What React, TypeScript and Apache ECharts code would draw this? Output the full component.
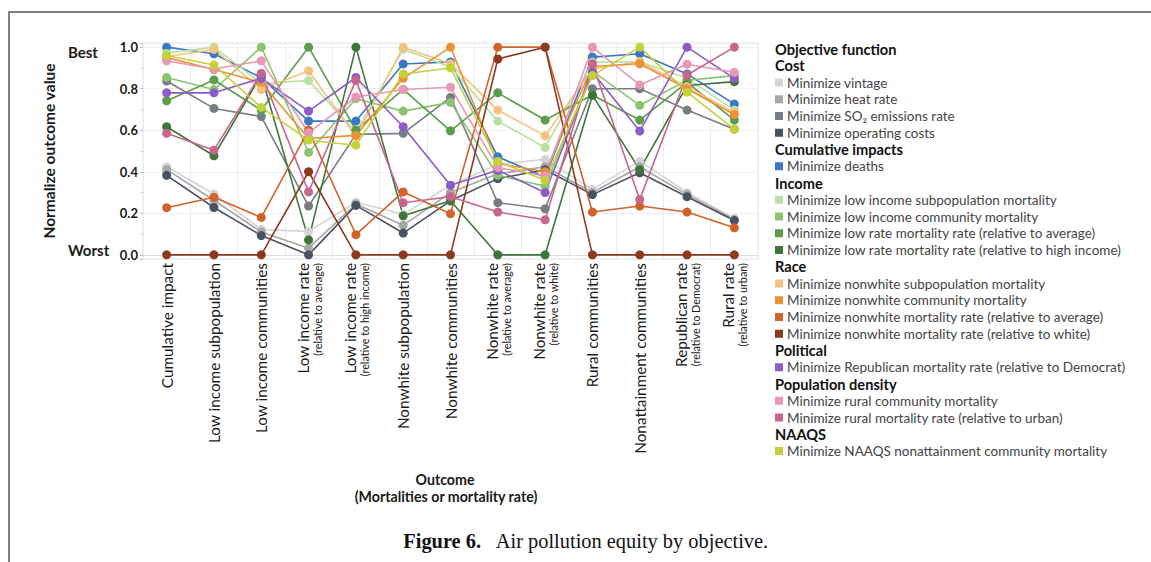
import React, { useEffect, useRef } from 'react';
import * as echarts from 'echarts';

const categoryNames = [
  'Cumulative impact',
  'Low income subpopulation',
  'Low income communities',
  'Low income rate',
  'Low income rate',
  'Nonwhite subpopulation',
  'Nonwhite communities',
  'Nonwhite rate',
  'Nonwhite rate',
  'Rural communities',
  'Nonattainment communities',
  'Republican rate',
  'Rural rate',
];
const categorySubs = [
  '', '', '', '(relative to average)', '(relative to high income)', '', '',
  '(relative to average)', '(relative to white)', '', '', '(relative to Democrat)', '(relative to urban)',
];
const yTicks = [0, 0.2, 0.4, 0.6, 0.8, 1.0];

const vintage = [0.424, 0.293, 0.122, 0.113, 0.253, 0.195, 0.335, 0.435, 0.46, 0.315, 0.451, 0.3, 0.175];
const heatRate = [0.41, 0.263, 0.11, 0.032, 0.245, 0.142, 0.3, 0.39, 0.424, 0.3, 0.424, 0.29, 0.17];
const so2Rate = [0.837, 0.705, 0.666, 0.235, 0.58, 0.585, 0.758, 0.251, 0.222, 0.8, 0.8, 0.697, 0.605];
const operatingCosts = [0.383, 0.228, 0.093, 0.0, 0.238, 0.105, 0.26, 0.367, 0.41, 0.29, 0.395, 0.28, 0.165];
const deaths = [1.0, 0.968, 0.853, 0.644, 0.644, 0.919, 0.929, 0.472, 0.375, 0.952, 0.968, 0.871, 0.726];
const lowIncomeSub = [0.97, 1.0, 0.826, 0.839, 0.59, 0.99, 0.905, 0.644, 0.517, 0.928, 0.93, 0.85, 0.697];
const lowIncomeComm = [0.854, 0.796, 1.0, 0.493, 0.752, 0.692, 0.734, 0.383, 0.33, 0.885, 0.72, 0.84, 0.863];
const lowRateAvg = [0.742, 0.842, 0.697, 1.0, 0.6, 0.797, 0.597, 0.78, 0.649, 0.77, 0.649, 0.83, 0.649];
const lowRateHigh = [0.617, 0.477, 0.866, 0.072, 1.0, 0.188, 0.26, 0.0, 0.0, 0.768, 0.41, 0.815, 0.834];
const nonwhiteSub = [0.955, 0.989, 0.796, 0.886, 0.57, 1.0, 0.92, 0.697, 0.573, 0.895, 0.93, 0.81, 0.685];
const nonwhiteComm = [0.95, 0.892, 0.83, 0.56, 0.575, 0.85, 1.0, 0.44, 0.4, 0.907, 0.92, 0.8, 0.676];
const nonwhiteAvg = [0.227, 0.277, 0.18, 0.6, 0.097, 0.303, 0.198, 1.0, 1.0, 0.206, 0.235, 0.206, 0.13];
const nonwhiteWhite = [0, 0, 0, 0.4, 0, 0, 0, 0.943, 1.0, 0, 0, 0, 0];
const republican = [0.78, 0.78, 0.85, 0.692, 0.854, 0.617, 0.335, 0.407, 0.3, 0.88, 0.596, 1.0, 0.85];
const ruralComm = [0.934, 0.895, 0.934, 0.588, 0.76, 0.796, 0.807, 0.42, 0.38, 1.0, 0.818, 0.918, 0.879];
const ruralRate = [0.585, 0.504, 0.874, 0.303, 0.84, 0.251, 0.28, 0.206, 0.169, 0.92, 0.266, 0.866, 1.0];
const naaqs = [0.96, 0.914, 0.71, 0.552, 0.528, 0.871, 0.9, 0.45, 0.359, 0.863, 1.0, 0.783, 0.605];

const seriesList = [
  { name: 'Minimize vintage', data: vintage, color: '#d4d4d4' },
  { name: 'Minimize heat rate', data: heatRate, color: '#a7a7a7' },
  { name: 'Minimize SO₂ emissions rate', data: so2Rate, color: '#787d84' },
  { name: 'Minimize operating costs', data: operatingCosts, color: '#485261' },
  { name: 'Minimize deaths', data: deaths, color: '#3b78c3' },
  { name: 'Minimize low income subpopulation mortality', data: lowIncomeSub, color: '#b9e0a6' },
  { name: 'Minimize low income community mortality', data: lowIncomeComm, color: '#8bc470' },
  { name: 'Minimize low rate mortality rate (relative to average)', data: lowRateAvg, color: '#5c9d4b' },
  { name: 'Minimize low rate mortality rate (relative to high income)', data: lowRateHigh, color: '#3d7639' },
  { name: 'Minimize nonwhite subpopulation mortality', data: nonwhiteSub, color: '#f5c27f' },
  { name: 'Minimize nonwhite community mortality', data: nonwhiteComm, color: '#ec9034' },
  { name: 'Minimize nonwhite mortality rate (relative to average)', data: nonwhiteAvg, color: '#d0622b' },
  { name: 'Minimize nonwhite mortality rate (relative to white)', data: nonwhiteWhite, color: '#8b3a1f' },
  { name: 'Minimize Republican mortality rate (relative to Democrat)', data: republican, color: '#8b5cc8' },
  { name: 'Minimize rural community mortality', data: ruralComm, color: '#e897b7' },
  { name: 'Minimize rural mortality rate (relative to urban)', data: ruralRate, color: '#c7658f' },
  { name: 'Minimize NAAQS nonattainment community mortality', data: naaqs, color: '#c5d13a' },
];

const legendGroups = [
  { title: 'Cost', items: [0, 1, 2, 3] },
  { title: 'Cumulative impacts', items: [4] },
  { title: 'Income', items: [5, 6, 7, 8] },
  { title: 'Race', items: [9, 10, 11, 12] },
  { title: 'Political', items: [13] },
  { title: 'Population density', items: [14, 15] },
  { title: 'NAAQS', items: [16] },
];

const FONT = 'Lato, "Noto Sans", sans-serif';

function buildLegend() {
  const els: any[] = [];
  const x0 = 775;
  const y0 = 49;
  const rowH = 16.75;
  let row = 0;
  const header = (t: string) => {
    els.push({
      type: 'text', x: x0, y: y0 + row * rowH,
      style: { text: t, fontFamily: FONT, fontWeight: 'bold', fontSize: 14.6, fill: '#111', align: 'left', verticalAlign: 'middle' },
    });
    row++;
  };
  header('Objective function');
  legendGroups.forEach((g) => {
    header(g.title);
    g.items.forEach((i) => {
      const y = y0 + row * rowH;
      els.push({ type: 'rect', shape: { x: x0, y: y - 4, width: 8, height: 8 }, style: { fill: seriesList[i].color } });
      els.push({
        type: 'text', x: x0 + 12, y,
        style: { text: seriesList[i].name, fontFamily: FONT, fontSize: 13.5, fill: '#444', align: 'left', verticalAlign: 'middle' },
      });
      row++;
    });
  });
  return els;
}

export default function App() {
  const ref = useRef<HTMLDivElement>(null);
  useEffect(() => {
    if (!ref.current) return;
    const chart = echarts.init(ref.current, undefined, { renderer: 'svg' });
    const option: any = {
      animation: false,
      backgroundColor: '#ffffff',
      grid: { left: 143, right: 393, top: 43, bottom: 303, show: true, borderColor: '#e2e2e2', borderWidth: 1 },
      xAxis: {
        type: 'category',
        data: categoryNames.map((n, i) => n + (categorySubs[i] ? ' ' + categorySubs[i] : '')),
        boundaryGap: true,
        axisLine: { show: true, lineStyle: { color: '#dddddd' } },
        axisTick: { show: false },
        splitLine: { show: true, lineStyle: { color: '#ececec' } },
        axisLabel: {
          interval: 0,
          rotate: 90,
          margin: 4,
          color: '#1a1a1a',
          formatter: (_v: string, i: number) =>
            categorySubs[i] ? `{a|${categoryNames[i]}}\n{b|${categorySubs[i]}}` : `{a|${categoryNames[i]}}`,
          rich: {
            a: { fontFamily: FONT, fontSize: 15.3, color: '#1a1a1a', lineHeight: 17 },
            b: { fontFamily: FONT, fontSize: 10.8, color: '#1a1a1a', lineHeight: 12 },
          },
        },
      },
      yAxis: {
        type: 'value',
        min: -0.02,
        max: 1.02,
        splitNumber: 5,
        name: 'Normalize outcome value',
        nameLocation: 'middle',
        nameGap: 86,
        nameTextStyle: { fontFamily: FONT, fontWeight: 'bold', fontSize: 15.5, color: '#1a1a1a' },
        axisLine: { show: false },
        axisTick: { show: true, length: 3, lineStyle: { color: '#bbbbbb' } },
        minorTick: { show: true, splitNumber: 2, length: 2, lineStyle: { color: '#cccccc' } },
        splitLine: { show: true, lineStyle: { color: '#efefef' } },
        axisLabel: {
          margin: 5,
          fontFamily: FONT,
          fontWeight: 'bold',
          fontSize: 13,
          color: '#1a1a1a',
          formatter: (v: number) => (yTicks.some((t) => Math.abs(t - v) < 1e-6) ? v.toFixed(1) : ''),
        },
      },
      series: seriesList.map((s) => ({
        name: s.name,
        type: 'line',
        data: s.data,
        symbol: 'circle',
        symbolSize: 9,
        lineStyle: { width: 1.6, color: s.color },
        itemStyle: { color: s.color },
      })),
      graphic: [
        { type: 'polyline', shape: { points: [[9, 562], [9, 12], [1151, 12]] }, style: { stroke: '#808080', lineWidth: 2, fill: 'none' } },
        { type: 'text', x: 68, y: 52, style: { text: 'Best', fontFamily: FONT, fontWeight: 'bold', fontSize: 15, fill: '#1a1a1a', align: 'left', verticalAlign: 'middle' } },
        { type: 'text', x: 68, y: 250, style: { text: 'Worst', fontFamily: FONT, fontWeight: 'bold', fontSize: 15, fill: '#1a1a1a', align: 'left', verticalAlign: 'middle' } },
        { type: 'text', x: 445, y: 479, style: { text: 'Outcome', fontFamily: FONT, fontWeight: 'bold', fontSize: 14.2, fill: '#1a1a1a', align: 'center', verticalAlign: 'middle' } },
        { type: 'text', x: 446, y: 496, style: { text: '(Mortalities or mortality rate)', fontFamily: FONT, fontWeight: 'bold', fontSize: 14.2, fill: '#1a1a1a', align: 'center', verticalAlign: 'middle' } },
        {
          type: 'text', x: 586, y: 541,
          style: {
            text: '{b|Figure 6.}{n|   Air pollution equity by objective.}',
            align: 'center', verticalAlign: 'middle',
            rich: {
              b: { fontFamily: '"Liberation Serif", serif', fontWeight: 'bold', fontSize: 20.4, fill: '#111' },
              n: { fontFamily: '"Liberation Serif", serif', fontSize: 20.4, fill: '#111' },
            },
          },
        },
        ...buildLegend(),
      ],
    };
    chart.setOption(option);
    return () => chart.dispose();
  }, []);
  return <div ref={ref} style={{ position: 'fixed', left: 0, top: 0, width: 1151, height: 562 }} />;
}
